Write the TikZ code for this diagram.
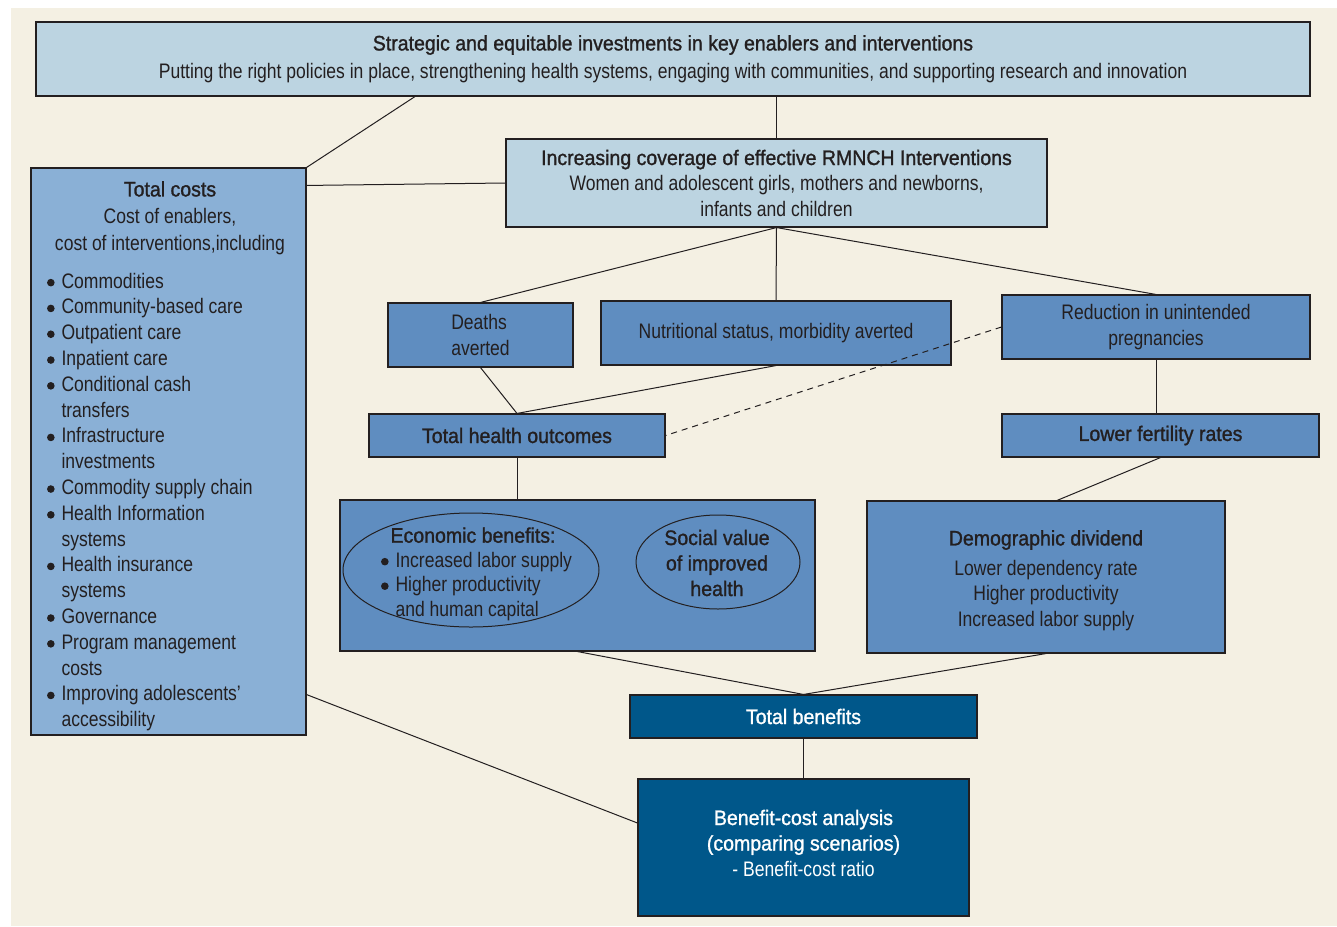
\documentclass[tikz,border=0pt]{standalone}
\usepackage{fontspec}
\setmainfont{Liberation Sans}[FakeStretch=0.835]
\newfontfamily\medfont{Liberation Sans}[FakeStretch=0.93,FakeBold=1.2]
\usetikzlibrary{shapes.geometric}
\definecolor{bgbeige}{HTML}{F4F0E3}
\definecolor{paleblue}{HTML}{BCD4E1}
\definecolor{costblue}{HTML}{8AB0D6}
\definecolor{midblue}{HTML}{5F8DC0}
\definecolor{deepblue}{HTML}{00578A}
\definecolor{ink}{HTML}{231F20}
\newcommand\bul{\makebox[15pt][l]{\hspace{0.5pt}\tikz[baseline=-5.5pt]\fill[ink] (0,0) circle (3.8pt);}}
\newcommand\hang{\hspace{15pt}}
\tikzset{
  box/.style={draw=ink,line width=1.1pt,inner sep=0pt,align=center,text=ink},
  palebox/.style={box,fill=paleblue},
  midbox/.style={box,fill=midblue},
  deepbox/.style={box,fill=deepblue,text=white},
  oval/.style={draw=ink,line width=1pt,ellipse,inner sep=0pt},
  link/.style={draw=ink,line width=1pt},
}
\begin{document}
\begin{tikzpicture}[x=1pt,y=-1pt,font={\fontsize{21}{25.5}\selectfont}]
\useasboundingbox (0,0) rectangle (1337,926);
\fill[bgbeige] (11,8) rectangle (1337,926);

\node[palebox,minimum width=1274pt,minimum height=74pt] (invest) at (673,59)
  {{\medfont Strategic and equitable investments in key enablers and interventions}\\[2.5pt]
   Putting the right policies in place, strengthening health systems, engaging with communities, and supporting research and innovation};
\node[box,fill=costblue,minimum width=275pt,minimum height=567pt] (costs) at (168.5,451.5) {};
\node[align=center,text=ink,font={\fontsize{21}{27}\selectfont}] (coststitle) at (170,218)
  {{\medfont Total costs}\\Cost of enablers,\\cost of interventions,including};
\node[anchor=west,align=left,text=ink,font={\fontsize{21}{25.8}\selectfont}] (costlist) at (43,502)
  {\bul Commodities\\
   \bul Community-based care\\
   \bul Outpatient care\\
   \bul Inpatient care\\
   \bul Conditional cash\\
   \hang transfers\\
   \bul Infrastructure\\
   \hang investments\\
   \bul Commodity supply chain\\
   \bul Health Information\\
   \hang systems\\
   \bul Health insurance\\
   \hang systems\\
   \bul Governance\\
   \bul Program management\\
   \hang costs\\
   \bul Improving adolescents'\\
   \hang accessibility};

\node[palebox,minimum width=541pt,minimum height=88pt] (coverage) at (776.5,183)
  {{\medfont Increasing coverage of effective RMNCH Interventions}\\
   Women and adolescent girls, mothers and newborns,\\infants and children};
\node[midbox,minimum width=185pt,minimum height=64pt,align=left] (deaths) at (480.5,335) {Deaths\\averted};
\node[midbox,minimum width=350pt,minimum height=64pt] (nutri) at (776,333) {Nutritional status, morbidity averted};
\node[midbox,minimum width=308pt,minimum height=64pt] (reduce) at (1156,327) {Reduction in unintended\\pregnancies};
\node[midbox,minimum width=296pt,minimum height=43pt] (health) at (517,435.5) {\medfont Total health outcomes};
\node[midbox,minimum width=317pt,minimum height=43pt] (fertility) at (1160.5,435.5) {\medfont Lower fertility rates};

\node[midbox,minimum width=475pt,minimum height=151pt] (econ) at (577.5,575.5) {};
\node[oval,minimum width=256pt,minimum height=114pt] (econoval) at (471,570) {};
\node[anchor=west,align=left,text=ink,font={\fontsize{21}{24.5}\selectfont}] (econtext) at (377,574)
  {\hspace{10pt}{\medfont Economic benefits:}\\
   \bul Increased labor supply\\
   \bul Higher productivity\\
   \hang and human capital};
\node[oval,minimum width=164pt,minimum height=94pt] (socialoval) at (718,562) {};
\node[align=center,text=ink] (socialtext) at (717,563) {\medfont Social value\\\medfont of improved\\\medfont health};
\node[midbox,minimum width=358pt,minimum height=152pt] (dividend) at (1046,577) {};
\node[align=center,text=ink] (dividtext) at (1046,580.5)
  {{\medfont Demographic dividend}\\[4.5pt]Lower dependency rate\\Higher productivity\\Increased labor supply};

\node[deepbox,minimum width=347pt,minimum height=43pt] (benefits) at (803.5,716.5) {\medfont Total benefits};
\node[deepbox,minimum width=331pt,minimum height=137pt] (bca) at (803.5,847.5) {};
\node[align=center,text=white] (bcatext) at (803.5,843)
  {{\medfont Benefit-cost analysis}\\{\medfont (comparing scenarios)}\\- Benefit-cost ratio};

\draw[link] ([xshift=-258pt]invest.south) -- (costs.north east);
\draw[link] ([yshift=-18pt]costs.north east) -- (coverage.west);
\draw[link] (invest.south -| coverage.north) -- (coverage.north);
\draw[link] (coverage.south) -- (deaths.north);
\draw[link] (coverage.south) -- (nutri.north);
\draw[link] (coverage.south) -- (reduce.north);
\draw[link] (deaths.south) -- (health.north);
\draw[link] (nutri.south) -- (health.north);
\draw[link,dashed,dash pattern=on 6pt off 5pt] (reduce.west) -- (health.east);
\draw[link] (reduce.south) -- (reduce.south |- fertility.north);
\draw[link] (health.south) -- (health.south |- econ.north);
\draw[link] (fertility.south) -- ([xshift=11pt]dividend.north);
\draw[link] (econ.south) -- (benefits.north);
\draw[link] (dividend.south) -- (benefits.north);
\draw[link] (benefits.south) -- (bca.north);
\draw[link] ([yshift=41pt]costs.south east) -- ([yshift=24.5pt]bca.west);
\end{tikzpicture}
\end{document}
